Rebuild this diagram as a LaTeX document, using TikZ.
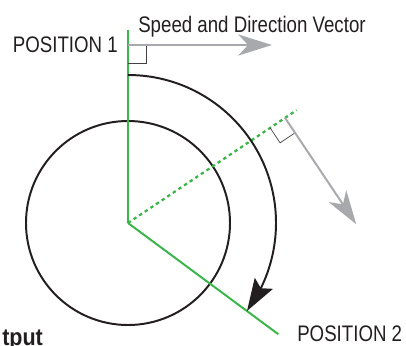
\documentclass[tikz,border=0pt]{standalone}
\usepackage{fontspec}
\setmainfont{Liberation Sans}
\usetikzlibrary{arrows.meta,bending,calc}
\definecolor{trackgreen}{RGB}{57,181,74}
\definecolor{vecgray}{RGB}{167,169,172}
\definecolor{inkblack}{RGB}{35,31,32}

\begin{document}
\begin{tikzpicture}[
  x=0.025cm, y=0.025cm,
  font=\fontsize{16}{18}\selectfont,
  track/.style={draw=trackgreen, line width=1.4pt},
  trackdot/.style={draw=trackgreen, line width=1.6pt, dash pattern=on 2.4pt off 2.4pt},
  turn/.style={draw=inkblack, line width=1.4pt},
  turnarrow/.style={turn, -{Stealth[length=23pt, width=15pt, inset=4pt, flex]}},
  vector/.style={draw=vecgray, line width=1.4pt, -{Stealth[length=24pt, width=15pt, inset=7pt]}},
  rightangle/.style={draw=inkblack!85, line width=0.5pt},
  postext/.style={text=inkblack, inner sep=0pt}
]

\useasboundingbox (-128,-122) rectangle (278,223);

\coordinate (center) at (0,0);
\coordinate (pos1) at (90:193);
\coordinate (pos2) at (-36.5:187);
\coordinate (mid) at (33.8:203);
\coordinate (foot1) at (0,178);
\coordinate (tip1) at (144,178);
\coordinate (foot2) at (33.8:189);
\coordinate (tip2) at ($(foot2)+(-56.2:128)$);
\coordinate (arcstart) at (90:148);

\draw[turn] (center) circle[radius=102];

\draw[track] (center) -- (pos1);
\draw[track] (center) -- (pos2);
\draw[trackdot] (center) -- (mid);

\draw[turnarrow] (arcstart) arc[start angle=90, end angle=-36.5, radius=148];

\draw[rightangle] (0,160) -- (18,160) -- (18,178);
\draw[rightangle] ($(foot2)+(213.8:18)$) -- ($(foot2)+(213.8:18)+(-56.2:18)$) -- ($(foot2)+(-56.2:18)$);

\draw[vector] (foot1) -- (tip1);
\draw[vector] (foot2) -- (tip2);

\node[postext, anchor=base east] (pos1text) at (-10,171) {\scalebox{0.83}[1]{POSITION 1}};
\node[postext, anchor=base west] (vectext) at (10,191) {\scalebox{0.83}[1]{Speed and Direction Vector}};
\node[postext, anchor=base west] (pos2text) at (169,-118.5) {\scalebox{0.83}[1]{POSITION 2}};
\node[postext, anchor=base west, font=\fontsize{17}{18}\selectfont\bfseries] (outtext) at (-126,-122) {\scalebox{0.9}[1]{tput}};

\end{tikzpicture}
\end{document}
